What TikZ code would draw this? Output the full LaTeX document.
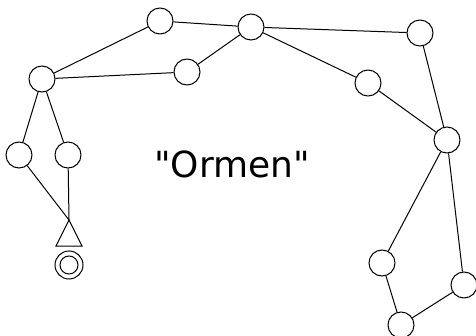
\documentclass[tikz,border=0pt]{standalone}
\usepackage{fontspec}
\newfontfamily\labelfont{DejaVu Sans}
\tikzset{
  knot/.style={draw, circle, fill=white, minimum size=19.5pt, inner sep=0pt},
}

\begin{document}
\begin{tikzpicture}[x=0.75pt, y=-0.75pt, line width=0.75pt]
\useasboundingbox (0, 0) rectangle (476, 336);
% the knots
\node[knot] (hd) at (42, 79) {};
\node[knot] (a) at (160, 21) {};
\node[knot] (b) at (187, 72) {};
\node[knot] (c) at (251, 27) {};
\node[knot] (d) at (420, 33) {};
\node[knot] (e) at (368, 83) {};
\node[knot] (f) at (447, 140) {};
\node[knot] (g) at (382, 263) {};
\node[knot] (h) at (464, 285) {};
\node[knot] (i) at (401, 325) {};
\node[knot] (l1) at (19, 155) {};
\node[knot] (l2) at (68, 155) {};
\coordinate (tip) at (69, 220);
\node[draw, circle, minimum size=21pt, inner sep=0pt] (end) at (69, 265) {};
\node[draw, circle, minimum size=13.5pt, inner sep=0pt] (endin) at (end) {};
% the links
\draw (hd) -- (a) -- (c);
\draw (hd) -- (b) -- (c);
\draw (c) -- (d) -- (f);
\draw (c) -- (e) -- (f);
\draw (f) -- (g) -- (i) -- (h) -- (f);
\draw (hd) -- (l1) -- (tip);
\draw (hd) -- (l2) -- (tip);
\draw (tip) -- ++(-13, 26) -- ++(26, 0) -- cycle;
\node[anchor=base, font=\labelfont\fontsize{27}{30}\selectfont] (name) at (232, 177) {"Ormen"};
\end{tikzpicture}
\end{document}
